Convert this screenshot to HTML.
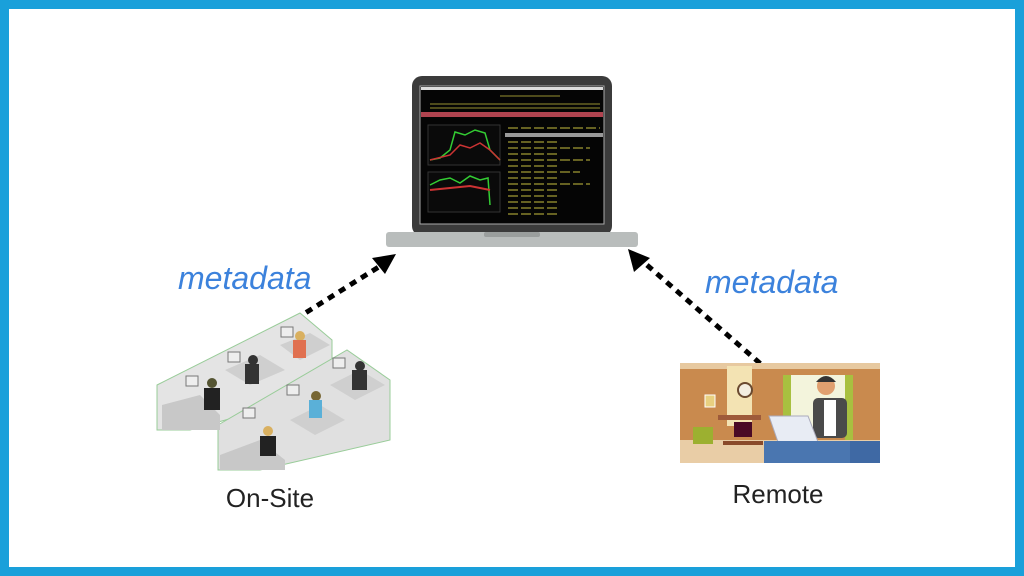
<!DOCTYPE html>
<html><head><style>
html,body{margin:0;padding:0;}
body{width:1024px;height:576px;background:#1aa0da;position:relative;overflow:hidden;font-family:"Liberation Sans",sans-serif;}
.inner{position:absolute;left:9px;top:9px;width:1006px;height:558px;background:#fff;}
svg{position:absolute;left:0;top:0;}
</style></head><body>
<div class="inner"></div>
<svg width="1024" height="576" viewBox="0 0 1024 576">
<!-- laptop -->
<rect x="412" y="76" width="200" height="160" rx="10" fill="#3b3b3b"/>
<rect x="420" y="86" width="184" height="138" fill="#050505" stroke="#aaa" stroke-width="1"/>
<rect x="421" y="87" width="182" height="3" fill="#ddd"/>
<rect x="421" y="112" width="182" height="5" fill="#b04450"/>
<g stroke="#c8c040" stroke-width="0.8">
<line x1="500" y1="96" x2="560" y2="96"/><line x1="430" y1="104" x2="600" y2="104"/>
<line x1="430" y1="108" x2="600" y2="108"/>
</g>
<rect x="428" y="125" width="72" height="40" fill="#0a0a0a" stroke="#333"/>
<rect x="428" y="172" width="72" height="40" fill="#0a0a0a" stroke="#333"/>
<polyline points="430,160 440,158 450,150 455,132 465,135 475,130 485,133 490,150 500,160" fill="none" stroke="#3c3" stroke-width="1.5"/>
<polyline points="430,160 450,155 460,145 470,148 480,143 490,150 500,160" fill="none" stroke="#c33" stroke-width="1.5"/>
<polyline points="430,185 440,180 450,178 460,183 470,176 480,180 488,178 490,205" fill="none" stroke="#3c3" stroke-width="1.5"/>
<polyline points="430,190 450,188 470,186 490,190" fill="none" stroke="#c33" stroke-width="2"/>
<rect x="505" y="133" width="98" height="4" fill="#999"/>
<g stroke="#c8c040" stroke-width="1" stroke-dasharray="10 3">
<line x1="508" y1="128" x2="600" y2="128"/><line x1="508" y1="142" x2="560" y2="142"/>
<line x1="508" y1="148" x2="590" y2="148"/><line x1="508" y1="154" x2="560" y2="154"/>
<line x1="508" y1="160" x2="590" y2="160"/><line x1="508" y1="166" x2="560" y2="166"/>
<line x1="508" y1="172" x2="580" y2="172"/><line x1="508" y1="178" x2="560" y2="178"/>
<line x1="508" y1="184" x2="590" y2="184"/><line x1="508" y1="190" x2="560" y2="190"/>
<line x1="508" y1="196" x2="560" y2="196"/><line x1="508" y1="202" x2="560" y2="202"/>
<line x1="508" y1="208" x2="560" y2="208"/><line x1="508" y1="214" x2="560" y2="214"/>
</g>
<rect x="386" y="232" width="252" height="15" rx="3" fill="#b9bdbc"/>
<rect x="484" y="232" width="56" height="5" rx="2" fill="#9a9e9d"/>
<!-- arrows -->
<g stroke="#000" stroke-width="5" stroke-dasharray="7 6" fill="none">
<line x1="240" y1="354" x2="385" y2="263"/>
<line x1="770" y1="372" x2="640" y2="259"/>
</g>
<polygon points="396,254 372,258 385,274" fill="#000"/>
<polygon points="628,249 634,272 650,258" fill="#000"/>
<!-- labels -->
<text x="178" y="289" font-size="32" font-style="italic" fill="#3c82dc">metadata</text>
<text x="705" y="293" font-size="32" font-style="italic" fill="#3c82dc">metadata</text>
<text x="270" y="507" font-size="26" fill="#222" text-anchor="middle">On-Site</text>
<text x="778" y="503" font-size="26" fill="#222" text-anchor="middle">Remote</text>
<!-- office -->
<g>
<polygon points="157,385 300,313 332,340 332,390 190,430 157,430" fill="#e4e4e4" stroke="#9c9" stroke-width="1"/>
<polygon points="218,425 347,350 390,380 390,440 260,470 218,470" fill="#e0e0e0" stroke="#9c9" stroke-width="1"/>
<polygon points="162,405 200,395 220,415 220,430 162,430" fill="#c8c8c8"/>
<polygon points="220,455 260,440 285,460 285,470 220,470" fill="#c8c8c8"/>
<polygon points="225,370 260,355 285,370 250,385" fill="#cfcfcf"/>
<polygon points="280,345 310,333 330,345 300,360" fill="#cfcfcf"/>
<polygon points="290,420 320,405 345,420 315,435" fill="#cfcfcf"/>
<polygon points="330,385 360,370 385,385 355,400" fill="#cfcfcf"/>
<circle cx="212" cy="383" r="5" fill="#553"/><rect x="204" y="388" width="16" height="22" fill="#222"/>
<circle cx="253" cy="360" r="5" fill="#333"/><rect x="245" y="364" width="14" height="20" fill="#333"/>
<circle cx="300" cy="336" r="5" fill="#d9b060"/><rect x="293" y="340" width="13" height="18" fill="#e07050"/>
<circle cx="268" cy="431" r="5" fill="#d9b060"/><rect x="260" y="436" width="16" height="20" fill="#222"/>
<circle cx="316" cy="396" r="5" fill="#763"/><rect x="309" y="400" width="13" height="18" fill="#5ab0d8"/>
<circle cx="360" cy="366" r="5" fill="#333"/><rect x="352" y="370" width="15" height="20" fill="#333"/>
<g fill="#eee" stroke="#777"><rect x="186" y="376" width="12" height="10"/><rect x="228" y="352" width="12" height="10"/><rect x="281" y="327" width="12" height="10"/><rect x="243" y="408" width="12" height="10"/><rect x="287" y="385" width="12" height="10"/><rect x="333" y="358" width="12" height="10"/></g>
</g>
<!-- remote -->
<rect x="680" y="363" width="200" height="100" fill="#c98a4e"/>
<rect x="680" y="363" width="200" height="6" fill="#e7c9a0"/>
<rect x="680" y="440" width="200" height="23" fill="#e9cda6"/>
<rect x="727" y="366" width="25" height="60" fill="#f3e3b3"/>
<circle cx="745" cy="390" r="7" fill="#f3eee0" stroke="#6a4a30" stroke-width="2"/>
<rect x="718" y="415" width="43" height="5" fill="#9e5a3a"/>
<rect x="734" y="422" width="18" height="15" fill="#4a0a25"/>
<rect x="783" y="375" width="70" height="60" fill="#f3f4dc"/>
<rect x="783" y="375" width="8" height="65" fill="#a8c040"/>
<rect x="845" y="375" width="8" height="65" fill="#a8c040"/>
<rect x="693" y="427" width="20" height="17" fill="#9cb030"/>
<rect x="705" y="395" width="10" height="12" fill="#e8d080" stroke="#fff"/>
<rect x="723" y="441" width="40" height="4" fill="#8a4a2a"/>
<circle cx="826" cy="386" r="9" fill="#e0a070"/>
<path d="M816,382 q10,-12 20,0" fill="#333"/>
<rect x="813" y="398" width="34" height="40" rx="5" fill="#4a4a4a"/>
<rect x="824" y="400" width="12" height="36" fill="#fff"/>
<polygon points="769,416 808,416 818,442 778,442" fill="#e8ecf4" stroke="#aab"/>
<rect x="764" y="441" width="116" height="22" fill="#4a76b0"/>
<rect x="850" y="441" width="30" height="22" fill="#3f69a4"/>
</svg>
</body></html>
